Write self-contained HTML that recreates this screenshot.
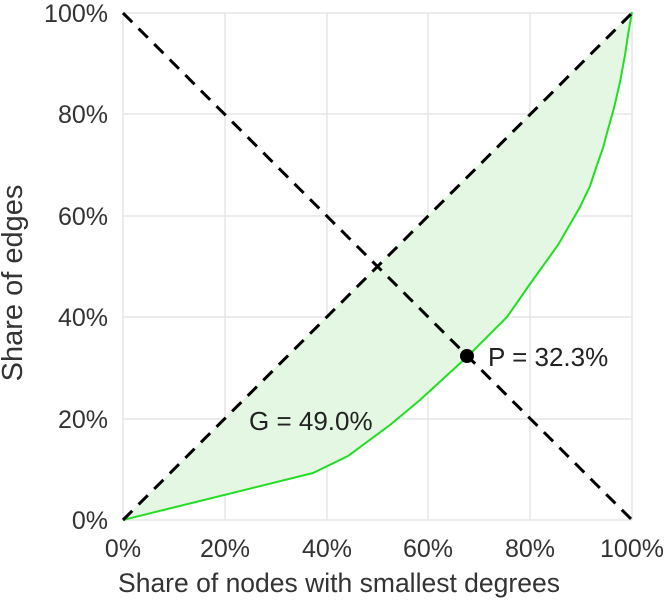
<!DOCTYPE html>
<html><head><style>body{margin:0;background:#fff}</style></head><body>
<svg width="668" height="600" viewBox="0 0 668 600" xmlns="http://www.w3.org/2000/svg" font-family="Liberation Sans, sans-serif">
<g stroke="#e6e6e6" stroke-width="1.5">
<line x1="123" y1="13" x2="123" y2="520"/>
<line x1="225" y1="13" x2="225" y2="520"/><line x1="327" y1="13" x2="327" y2="520"/><line x1="428" y1="13" x2="428" y2="520"/><line x1="530" y1="13" x2="530" y2="520"/><line x1="632" y1="13" x2="632" y2="520"/>
<line x1="123" y1="13" x2="632" y2="13"/><line x1="123" y1="114" x2="632" y2="114"/><line x1="123" y1="216" x2="632" y2="216"/><line x1="123" y1="317" x2="632" y2="317"/><line x1="123" y1="419" x2="632" y2="419"/><line x1="123" y1="520" x2="632" y2="520"/>
</g>
<path d="M123,520 L313,473 L348,456 L390,425 L420,400 L432,389 L467,357 L507,317 L530,284 L558,245 L580,207 L590,186 L597,165 L603,148 L607,133 L614,108 L620,82 L625,55 L628,35 L632,12 Z" fill="#e3f7e3" stroke="none"/>
<path d="M123,520 L313,473 L348,456 L390,425 L420,400 L432,389 L467,357 L507,317 L530,284 L558,245 L580,207 L590,186 L597,165 L603,148 L607,133 L614,108 L620,82 L625,55 L628,35 L632,12" fill="none" stroke="#22dd22" stroke-width="2"/>
<g stroke="#000" stroke-width="3" stroke-dasharray="13,9">
<line x1="123" y1="520" x2="632" y2="13"/>
<line x1="123" y1="13" x2="632" y2="520"/>
</g>
<circle cx="467" cy="356" r="7" fill="#000"/>
<g font-size="26" fill="#222">
<text x="488" y="366">P = 32.3%</text>
<text x="249" y="430">G = 49.0%</text>
</g>
<g font-size="25" fill="#333" text-anchor="end">
<text x="108" y="22">100%</text><text x="108" y="123">80%</text><text x="108" y="225">60%</text><text x="108" y="326">40%</text><text x="108" y="428">20%</text><text x="108" y="529">0%</text>
</g>
<g font-size="25" fill="#333" text-anchor="middle">
<text x="123" y="557">0%</text><text x="225" y="557">20%</text><text x="327" y="557">40%</text><text x="428" y="557">60%</text><text x="530" y="557">80%</text><text x="632" y="557">100%</text>
<text x="339" y="592" font-size="26.5">Share of nodes with smallest degrees</text>
<text transform="translate(22,283) rotate(-90)" font-size="29">Share of edges</text>
</g>
</svg>
</body></html>
